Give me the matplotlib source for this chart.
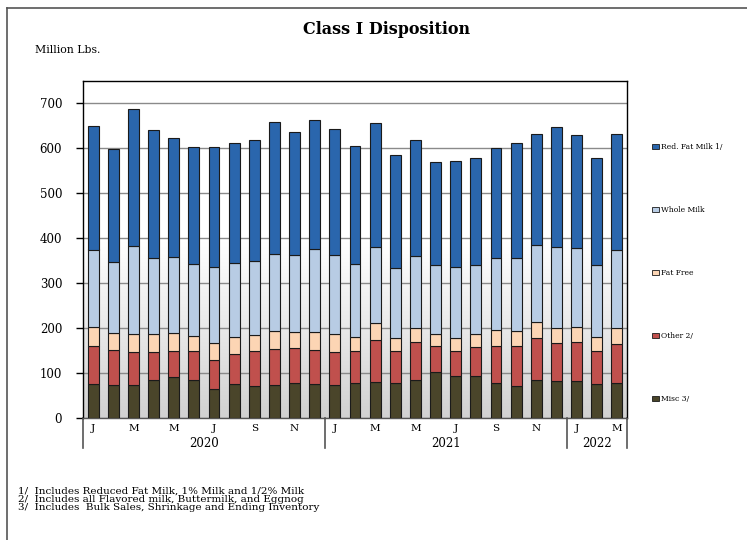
import matplotlib
matplotlib.use("Agg")
import matplotlib.pyplot as plt
import numpy as np
from matplotlib.patches import Patch
from matplotlib.lines import Line2D
import matplotlib.transforms as mtransforms

plt.rcParams['font.family'] = ['DejaVu Serif', 'Liberation Serif']

months = ["J", "F", "M", "A", "M", "J", "J", "A", "S", "O", "N", "D",
          "J", "F", "M", "A", "M", "J", "J", "A", "S", "O", "N", "D",
          "J", "F", "M"]
years = ["2020", "2021", "2022"]
year_counts = [12, 12, 3]

misc = [76, 73, 73, 84, 91, 84, 65, 76, 71, 73, 78, 76,
        73, 78, 81, 78, 84, 103, 94, 94, 78, 71, 84, 83,
        82, 76, 78]
other = [84, 78, 74, 63, 59, 65, 64, 66, 78, 81, 77, 75,
         74, 70, 92, 71, 85, 57, 55, 63, 83, 89, 95, 84,
         87, 73, 86]
fat_free = [42, 38, 40, 39, 39, 33, 38, 39, 36, 39, 37, 40,
            40, 33, 39, 30, 31, 28, 29, 29, 35, 34, 34, 33,
            34, 32, 36]
whole = [173, 159, 195, 170, 169, 161, 168, 163, 165, 171, 171, 185,
         175, 162, 168, 154, 160, 152, 157, 155, 159, 162, 171, 180,
         175, 159, 173]
red_fat = [275, 250, 305, 286, 266, 261, 269, 269, 269, 294, 274, 288,
           282, 263, 276, 253, 258, 230, 236, 238, 247, 256, 249, 267,
           252, 239, 260]

series = [("Misc 3/", misc, "#4a452a"),
          ("Other 2/", other, "#c0504d"),
          ("Fat Free", fat_free, "#fcd5b4"),
          ("Whole Milk", whole, "#b8cce4"),
          ("Red. Fat Milk 1/", red_fat, "#2a66ad")]

footnotes = ["1/  Includes Reduced Fat Milk, 1% Milk and 1/2% Milk",
             "2/  Includes all Flavored milk, Buttermilk, and Eggnog",
             "3/  Includes  Bulk Sales, Shrinkage and Ending Inventory"]

W, H = 747, 540
fig = plt.figure(figsize=(W / 100, H / 100), dpi=100)
ax = fig.add_axes([83 / W, 1 - 418 / H, (627 - 83) / W, (418 - 81) / H])

n = len(months)
x = np.arange(n)
ax.set_xlim(-0.5, n - 0.5)
ax.set_ylim(0, 750)

# gradient background
yy = np.linspace(0, 750, 300)
vals = np.where(yy > 390, 1.0, 0.82 + (1.0 - 0.82) * (yy / 390))
img = np.dstack([vals, vals, vals]).reshape(300, 1, 3)
ax.imshow(img, extent=(-0.5, n - 0.5, 0, 750), origin='lower', aspect='auto', zorder=0,
          interpolation='bilinear')

ax.set_yticks(np.arange(0, 701, 100))
ax.yaxis.grid(True, color="#8a8a8a", linewidth=1.0, zorder=1)
ax.set_axisbelow(True)

bottom = np.zeros(n)
for name, vals_s, col in series:
    ax.bar(x, vals_s, width=0.54, bottom=bottom, color=col, edgecolor="#1a1a1a",
           linewidth=0.8, zorder=3, label=name)
    bottom += np.array(vals_s)

for sp in ax.spines.values():
    sp.set_color("black")
    sp.set_linewidth(1.0)
ax.spines['bottom'].set_color("#555555")

ax.tick_params(axis='y', length=5, width=1, pad=10, colors='black')
ax.set_yticklabels([str(v) for v in range(0, 701, 100)], fontsize=8.5)

# x labels
ax.set_xticks([])
ax.tick_params(axis='x', length=0)
trans = mtransforms.blended_transform_factory(ax.transData, ax.transAxes)
for i in range(0, n, 2):
    ax.text(x[i], -0.03, months[i], transform=trans, ha='center', va='center', fontsize=7.5)
start = 0
bounds = [-0.5]
for yl, c in zip(years, year_counts):
    mid = start + (c - 1) / 2
    ax.text(mid, -0.075, yl, transform=trans, ha='center', va='center', fontsize=8.5)
    start += c
    bounds.append(start - 0.5)
for b in bounds:
    ax.plot([b, b], [0, -0.09], transform=trans, color="#555555", linewidth=1.2, clip_on=False)

fig.text(387 / W, 1 - 30 / H, "Class I Disposition", ha='center', va='center',
         fontsize=11.5, fontweight='bold')
fig.text(35 / W, 1 - 50 / H, "Million Lbs.", ha='left', va='center', fontsize=7.8)

handles = [Patch(facecolor=c, edgecolor="#1a1a1a", linewidth=0.6, label=nm) for nm, _, c in series[::-1]]
fig.legend(handles=handles, loc='upper left', bbox_to_anchor=(652 / W, 1 - 143 / H),
           frameon=False, fontsize=5.5, labelspacing=7.2, handlelength=0.9,
           handleheight=0.7, handletextpad=0.3, borderpad=0, borderaxespad=0)

for i, t in enumerate(footnotes):
    fig.text(18 / W, 1 - (491.5 + i * 8.1) / H, t, ha='left', va='center', fontsize=7.5)

# figure frame
fig.add_artist(Line2D([7 / W, 7 / W], [0, 1 - 8 / H], transform=fig.transFigure, color="#555555", linewidth=1.2))
fig.add_artist(Line2D([7 / W, 1], [1 - 8 / H, 1 - 8 / H], transform=fig.transFigure, color="#555555", linewidth=1.2))

fig.savefig("out.png", dpi=100)
